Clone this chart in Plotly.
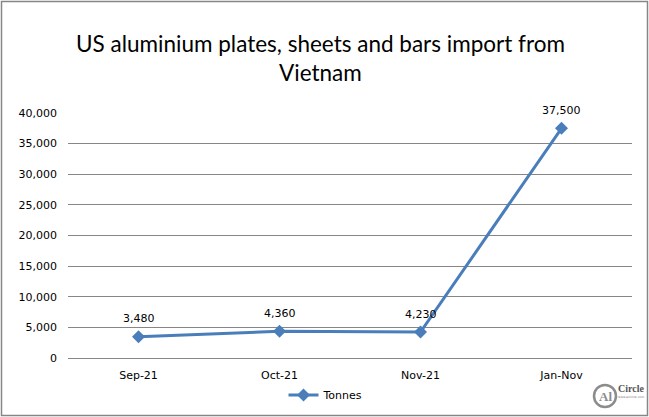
import plotly.graph_objects as go

categories = ["Sep-21", "Oct-21", "Nov-21", "Jan-Nov"]
tonnes = [3480, 4360, 4230, 37500]
label_text = ["3,480", "4,360", "4,230", "37,500"]
y_ticks = [0, 5000, 10000, 15000, 20000, 25000, 30000, 35000, 40000]
y_tick_text = ["0", "5,000", "10,000", "15,000", "20,000", "25,000", "30,000", "35,000", "40,000"]

W, H = 649, 417
L, R, T, B = 68, 17, 113, 59
pw, ph = W - L - R, H - T - B


def px(x):
    return (x - L) / pw


def py(y):
    return (H - B - y) / ph


fig = go.Figure()
fig.add_trace(go.Scatter(
    x=categories, y=tonnes, mode="lines+markers", name="Tonnes",
    line=dict(color="#4A7EBB", width=3),
    marker=dict(symbol="diamond", size=10, color="#4A7EBB"),
    cliponaxis=False,
))

for c, v, t in zip(categories, tonnes, label_text):
    fig.add_annotation(x=c, y=v, text=t, showarrow=False, yshift=18,
                       xanchor="center", yanchor="middle",
                       font=dict(family="DejaVu Sans", size=11, color="#000000"))

fig.update_layout(
    width=W, height=H, margin=dict(l=L, r=R, t=T, b=B, autoexpand=False),
    paper_bgcolor="white", plot_bgcolor="white",
    xaxis=dict(type="category", range=[-0.5, 3.5], showgrid=False, showline=False,
               ticks="", tickfont=dict(family="DejaVu Sans", size=11, color="#000000"),
               ticklabelstandoff=9),
    yaxis=dict(range=[0, 40000], tickvals=y_ticks, ticktext=y_tick_text,
               showgrid=True, gridcolor="#868686", gridwidth=1, zeroline=True,
               zerolinecolor="#868686", zerolinewidth=1, showline=False, ticks="",
               tickfont=dict(family="DejaVu Sans", size=11, color="#000000"),
               ticklabelstandoff=10),
    showlegend=True,
    legend=dict(orientation="h", x=px(326), xanchor="center", y=py(395), yanchor="middle",
                font=dict(family="DejaVu Sans", size=11, color="#000000"),
                itemwidth=30, bgcolor="rgba(0,0,0,0)"),
)

# title (two lines)
fig.add_annotation(text="US aluminium plates, sheets and bars import from", xref="paper", yref="paper",
                   x=px(320), y=py(44), showarrow=False, xanchor="center", yanchor="middle",
                   font=dict(family="Lato", size=22.5, color="#000000"))
fig.add_annotation(text="Vietnam", xref="paper", yref="paper",
                   x=px(320), y=py(72), showarrow=False, xanchor="center", yanchor="middle",
                   font=dict(family="Lato", size=22.5, color="#000000"))

# chart border
fig.add_shape(type="rect", xref="paper", yref="paper",
              x0=px(1.5), x1=px(647.5), y0=py(415.5), y1=py(1.5),
              line=dict(color="#868686", width=1.5), fillcolor="rgba(0,0,0,0)", layer="below")

# logo
cx, cy, r = 605, 396, 11
fig.add_shape(type="circle", xref="paper", yref="paper",
              x0=px(cx - r), x1=px(cx + r), y0=py(cy + r), y1=py(cy - r),
              line=dict(color="#8c8c8c", width=2.5))
fig.add_annotation(text="<b>Al</b>", xref="paper", yref="paper",
                   x=px(cx), y=py(cy), showarrow=False, xanchor="center", yanchor="middle",
                   font=dict(family="Liberation Sans Narrow", size=13, color="#8c8c8c"))
fig.add_annotation(text="<b>Circle</b>", xref="paper", yref="paper",
                   x=px(631), y=py(388), showarrow=False, xanchor="center", yanchor="middle",
                   font=dict(family="Liberation Sans Narrow", size=10, color="#555555"))
fig.add_annotation(text="www.alcircle.com", xref="paper", yref="paper",
                   x=px(631), y=py(397), showarrow=False, xanchor="center", yanchor="middle",
                   font=dict(family="DejaVu Sans", size=3, color="#777777"))

fig.write_html("out.html")
